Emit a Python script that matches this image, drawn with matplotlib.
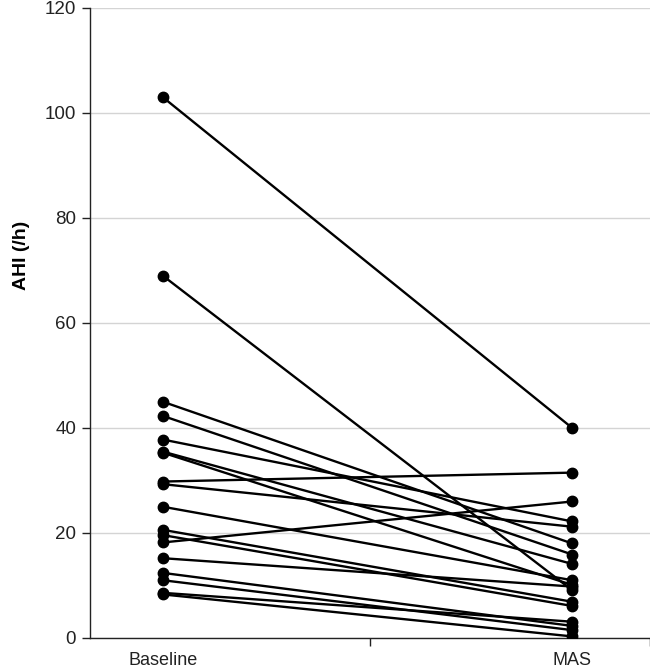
import matplotlib.pyplot as plt
from matplotlib import font_manager
from matplotlib.ticker import FixedLocator

# AHI values per patient
groups = ["Baseline", "MAS"]
baseline = [103.0, 69.0, 45.0, 42.3, 37.8, 35.5, 35.3, 29.8, 29.3, 25.0,
            20.6, 19.6, 18.2, 15.2, 12.4, 11.0, 8.6, 8.3]
mas = [40.0, 9.1, 18.0, 15.9, 22.2, 14.1, 10.1, 31.5, 21.2, 11.0,
       6.9, 6.1, 26.0, 9.8, 2.3, 1.5, 3.1, 0.3]
yticks = [0, 20, 40, 60, 80, 100, 120]

plt.rcParams["font.family"] = ["Liberation Sans", "DejaVu Sans"]

# the category labels are in a narrow face if there is one
try:
    font_manager.findfont("Liberation Sans Narrow", fallback_to_default=False)
    cat_font, cat_size = "Liberation Sans Narrow", 15
except ValueError:
    cat_font, cat_size = "Liberation Sans", 13

fig = plt.figure(figsize=(6.5, 6.72), dpi=100)
ax = fig.add_axes([0.1385, 0.0506, 0.8615, 0.9375])

xpos = [0, 1]
for b, m in zip(baseline, mas):
    ax.plot(xpos, [b, m], color="black", lw=1.7, marker="o", ms=7.5,
            solid_capstyle="round", zorder=3)

ax.set_xlim(-0.178, 1.19)
ax.set_ylim(0, 120)
ax.set_yticks(yticks)
ax.tick_params(axis="y", labelsize=13.5, length=6, width=1, colors="#222222",
               labelcolor="#222222", pad=4)
ax.yaxis.grid(True, color="#d4d4d4", lw=1)
ax.set_axisbelow(True)

ax.set_xticks(xpos)
ax.set_xticklabels(groups, family=cat_font, fontsize=cat_size, color="#222222")
ax.tick_params(axis="x", which="major", length=0, pad=10)
ax.xaxis.set_minor_locator(FixedLocator([0.506, 1.19]))
ax.tick_params(axis="x", which="minor", length=6, width=1, color="#222222")

for s in ["top", "right"]:
    ax.spines[s].set_visible(False)
for s in ["left", "bottom"]:
    ax.spines[s].set_color("#222222")
    ax.spines[s].set_linewidth(1)

ax.set_ylabel("AHI (/h)", fontsize=14, fontweight="bold")
ax.yaxis.set_label_coords(-0.108, 0.608)

fig.savefig("out.png", dpi=100)
